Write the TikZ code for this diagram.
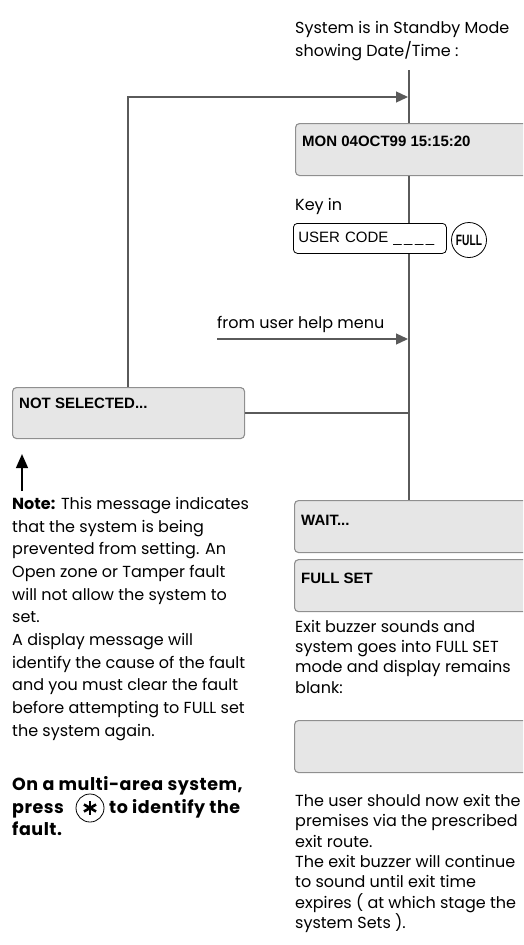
\documentclass[tikz,border=0pt]{standalone}
\usepackage{fontspec}
\setmainfont{Poppins}
\newfontfamily\lcdfont{Liberation Sans}
\usetikzlibrary{positioning,arrows.meta}
\definecolor{lcdfill}{HTML}{E6E6E6}
\definecolor{lcdedge}{HTML}{8F8F8F}
\definecolor{wire}{HTML}{5A5A5A}

\begin{document}
\begin{tikzpicture}[
    x=1pt, y=-1pt,
    body/.style={anchor=north west, inner sep=0pt, align=left, font=\fontsize{16}{20.5}\selectfont},
    boldbody/.style={anchor=base west, inner sep=0pt, font=\bfseries\fontsize{17.5}{22.5}\selectfont\addfontfeatures{LetterSpace=3}},
    lcd/.style={draw=lcdedge, fill=lcdfill, line width=1.1pt, rounded corners=4pt, anchor=north west, minimum width=240pt, minimum height=52pt, inner sep=0pt},
    lcdtext/.style={anchor=base west, inner sep=0pt, font=\lcdfont\bfseries\fontsize{15}{17}\selectfont},
    codebox/.style={draw, fill=white, rounded corners=4pt, line width=0.8pt, anchor=north west, text width=143pt, inner xsep=5pt, inner ysep=0pt, minimum height=30pt, align=left, font=\lcdfont\fontsize{15}{17}\selectfont},
    keycap/.style={circle, draw, line width=0.8pt, inner sep=0pt},
    wireline/.style={draw=wire, line width=1.3pt},
    flow/.style={wireline, -{Triangle[length=12pt, width=11pt]}}
]
\useasboundingbox (0,0) rectangle (523,945);
\clip (0,0) rectangle (523,945);

\node[body, font=\fontsize{16}{23}\selectfont] (standby) at (295,21) {System is in Standby Mode\\showing Date/Time :};
\coordinate (top) at (409,70);
\coordinate (join) at (408,97);
\coordinate (back) at (128,97);

\node[lcd] (mon) at (295,123) {};
\node[lcdtext] (montxt) at ([xshift=7pt,yshift=-23pt]mon.north west) {MON 04OCT99 15:15:20};

\node[body] (keyin) at (295,198) {Key in};
\node[codebox] (usercode) at (293,223) {USER CODE \_\,\_\,\_\,\_};
\node[keycap, minimum size=35pt, font=\lcdfont\bfseries\fontsize{15}{15}\selectfont] (fullkey) at (469,240) {\scalebox{0.68}[1]{FULL}};

\coordinate (helpstart) at (217,339);
\coordinate (help) at (408,339);
\node[body, anchor=base west] (helptxt) at ([yshift=11pt]helpstart) {from user help menu};

\node[lcd, minimum width=232pt, minimum height=51pt] (notsel) at (12,387) {};
\node[lcdtext] (notseltxt) at ([xshift=7pt,yshift=-21pt]notsel.north west) {NOT SELECTED...};

\node[body, font=\fontsize{16}{22.7}\selectfont] (note) at (12,497) {\textbf{Note:} This message indicates\\that the system is being\\prevented from setting. An\\Open zone or Tamper fault\\will not allow the system to\\set.\\A display message will\\identify the cause of the fault\\and you must clear the fault\\before attempting to FULL set\\the system again.};

\node[boldbody] (multi) at (12,790) {On a multi-area system,};
\node[boldbody] (press) at (12,813) {press};
\node[keycap, minimum size=28pt, path picture={
    \foreach \a in {90,30,150}
        \draw[line width=2.6pt] ([shift={(\a:7pt)}]path picture bounding box.center) -- ([shift={(\a+180:7pt)}]path picture bounding box.center);
}] (star) at (90,808) {};
\node[boldbody] (ident) at (109,813) {to identify the};
\node[boldbody] (fault) at (12,835) {fault.};

\node[lcd] (wait) at (294,500) {};
\node[lcdtext] (waittxt) at ([xshift=7pt,yshift=-25pt]wait.north west) {WAIT...};
\node[lcd, below=6pt of wait] (fullset) {};
\node[lcdtext] (fullsettxt) at ([xshift=7pt,yshift=-24pt]fullset.north west) {FULL SET};

\node[body, font=\fontsize{16}{20.3}\selectfont] (exitbuzz) at (295,620) {Exit buzzer sounds and\\system goes into FULL SET\\mode and display remains\\blank:};
\node[lcd] (blank) at (294,720) {};
\node[body, font=\fontsize{16}{20.4}\selectfont] (leave) at (295,794) {The user should now exit the\\premises via the prescribed\\exit route.\\The exit buzzer will continue\\to sound until exit time\\expires ( at which stage the\\system Sets ).};

\draw[wireline] (top) -- (mon.north -| top);
\draw[wireline] (mon.south -| top) -- (usercode.north -| top);
\draw[wireline] (usercode.south -| top) -- (wait.north -| top);
\draw[flow] (back |- notsel.north) -- (back) -- (join);
\draw[flow] (helpstart) -- (help);
\draw[wireline] (notsel.east) -- (notsel.east -| top);
\draw[-{Triangle[length=14pt, width=12pt]}, line width=1.4pt] ([xshift=10pt,yshift=6pt]note.north west) -- ([xshift=10pt,yshift=-15pt]notsel.south west);

\end{tikzpicture}
\end{document}
